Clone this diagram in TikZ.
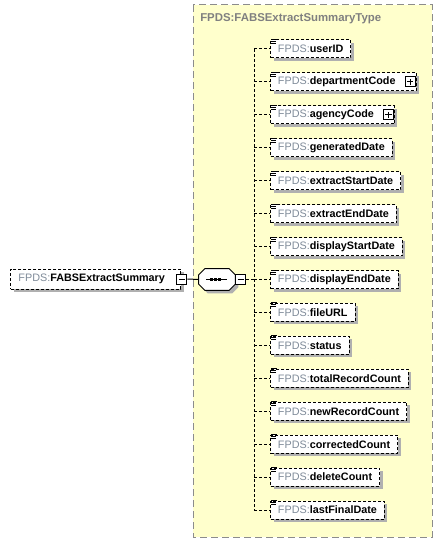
\documentclass[tikz,border=0pt]{standalone}
\usepackage{fontspec}
\setmainfont{Liberation Sans}
\usetikzlibrary{positioning,calc,shadows,backgrounds}

\definecolor{typefill}{HTML}{FFFFCC}
\definecolor{typeline}{HTML}{8C8C8C}
\definecolor{titlegray}{HTML}{808080}
\definecolor{prefixgray}{HTML}{7F8B99}
\definecolor{shadowgray}{HTML}{B0B0B0}

\newcommand{\elname}[1]{\textcolor{prefixgray}{FPDS:}\textbf{#1}}

\begin{document}
\begin{tikzpicture}[
  x=0.75pt, y=-0.75pt,
  font=\fontsize{8.1pt}{9.7pt}\selectfont,
  every node/.style={align=left},
  shade/.style={drop shadow={shadow xshift=2.25pt, shadow yshift=-2.25pt, fill=shadowgray, opacity=1}},
  elem/.style={rectangle, draw=black, fill=white, line width=0.75pt, dash pattern=on 2.25pt off 1.5pt,
               minimum height=13.5pt, inner xsep=5.6pt, inner ysep=0pt, anchor=west, shade},
  topelem/.style={elem, minimum height=15pt, inner xsep=6pt},
  seqbox/.style={rectangle, minimum width=27pt, minimum height=15.75pt, inner sep=0pt},
  octagon/.style={draw=black, fill=white, line width=0.75pt, shade},
  toggle/.style={rectangle, draw=black, fill=white, line width=0.75pt, minimum size=7.5pt, inner sep=0pt},
  typebox/.style={draw=typeline, fill=typefill, line width=0.75pt, dash pattern=on 5.25pt off 3pt},
  conn/.style={line width=0.75pt, dash pattern=on 2.25pt off 1.5pt},
  docmark/.style={line width=0.75pt}
]
  \useasboundingbox (0,0) rectangle (442,542);

  % Complex type frame
  \draw[typebox] (193,5) rectangle (432,537);
  \node[anchor=west, text=titlegray, font=\fontsize{8.55pt}{10pt}\selectfont\bfseries, inner sep=0pt] (title) at (200,19) {FPDS:FABSExtractSummaryType};

  % Root element and sequence
  \node[topelem] (root) at (10,279) {\elname{FABSExtractSummary}\hspace{6pt}};
  \node[toggle] (rootminus) at ([xshift=0.4pt]root.east) {};
  \draw[line width=0.75pt] ([xshift=-2.4pt]rootminus.center) -- ([xshift=2.4pt]rootminus.center);
  \node[seqbox] (seq) at (217,279.5) {};
  \draw[octagon] ($(seq.north west)+(6,0)$) -- ($(seq.north east)+(-6,0)$) -- ($(seq.north east)+(0,6)$)
    -- ($(seq.south east)+(0,-6)$) -- ($(seq.south east)+(-6,0)$) -- ($(seq.south west)+(6,0)$)
    -- ($(seq.south west)+(0,-6)$) -- ($(seq.north west)+(0,6)$) -- cycle;
  \draw[line width=0.75pt] ($(seq.center)+(-11,0)$) -- ($(seq.center)+(10,0)$);
  \foreach \dx in {-5.5,-1.5,2.5}
    \fill ($(seq.center)+(\dx,0)+(-1.6,-1.6)$) rectangle ($(seq.center)+(\dx,0)+(1.6,1.6)$);
  \node[toggle, anchor=west] (seqminus) at (seq.east) {};
  \draw[line width=0.75pt] ([xshift=-2.4pt]seqminus.center) -- ([xshift=2.4pt]seqminus.center);
  \draw[line width=0.75pt] (rootminus.east) -- (seq.west);

  % Child elements
  \coordinate (spine) at (254,279.5);
  \foreach \name/\more [count=\i from 0] in {userID/0, departmentCode/1, agencyCode/1, generatedDate/0,
      extractStartDate/0, extractEndDate/0, displayStartDate/0, displayEndDate/0, fileURL/0, status/0,
      totalRecordCount/0, newRecordCount/0, correctedCount/0, deleteCount/0, lastFinalDate/0} {
    \node[elem] (\name) at (270,49+32.93*\i) {\elname{\name}\ifnum\more=1\hspace{9.75pt}\fi};
    \draw[docmark] ($(\name.north west)+(1,0)$) -- +(6,0)
                   ($(\name.north west)+(1,2)$) -- +(5,0)
                   ($(\name.north west)+(1,4)$) -- +(5,0);
    \draw[conn] (spine |- \name.west) -- (\name.west);
    \ifnum\more=1
      \node[toggle, anchor=east] (\name plus) at ([xshift=-0.75pt]\name.east) {};
      \draw[line width=0.75pt] ([xshift=-2.4pt]\name plus.center) -- ([xshift=2.4pt]\name plus.center)
                               ([yshift=-2.4pt]\name plus.center) -- ([yshift=2.4pt]\name plus.center);
    \fi
  }
  \draw[conn] (spine |- userID.west) -- (spine |- lastFinalDate.west);
  \draw[conn] (seqminus.east) -- (spine);
\end{tikzpicture}
\end{document}
